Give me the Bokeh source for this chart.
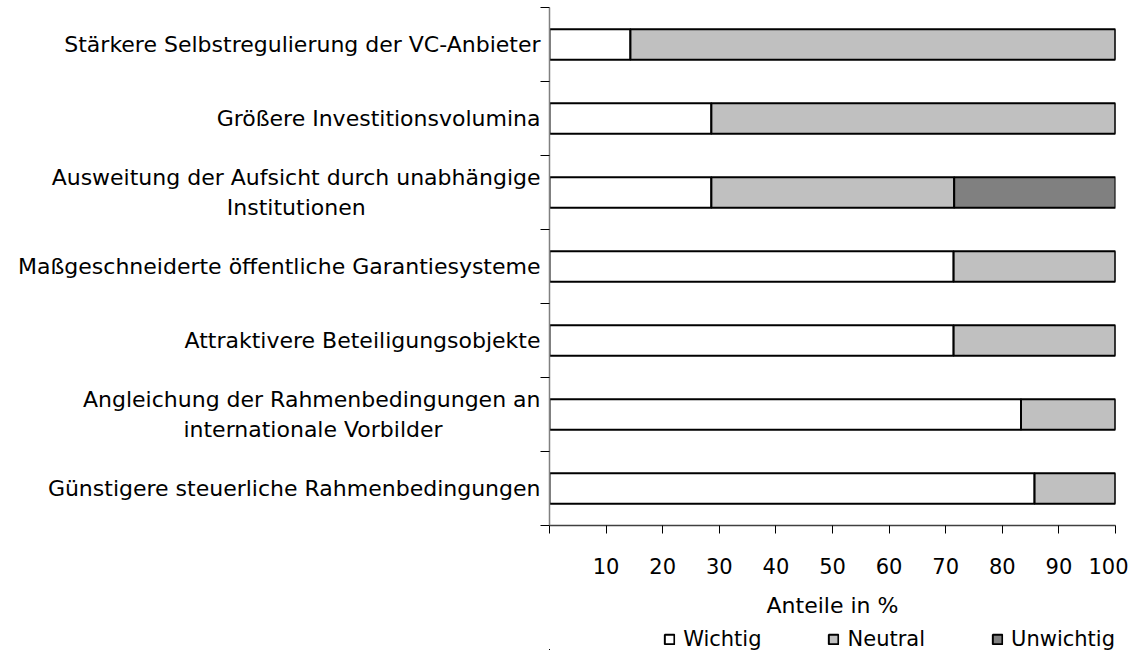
from bokeh.plotting import figure
from bokeh.layouts import column
from bokeh.models import ColumnDataSource, FixedTicker, Legend, LegendItem
from bokeh.embed import file_html
from bokeh.resources import INLINE

NB = "\u00a0"
categories = [
    "Stärkere Selbstregulierung der VC-Anbieter",
    "Größere Investitionsvolumina",
    "Ausweitung der Aufsicht durch unabhängige\nInstitutionen" + NB * 25,
    "Maßgeschneiderte öffentliche Garantiesysteme",
    "Attraktivere Beteiligungsobjekte",
    "Angleichung der Rahmenbedingungen an\ninternationale Vorbilder" + NB * 14,
    "Günstigere steuerliche Rahmenbedingungen",
]
wichtig = [14.3, 28.6, 28.6, 71.4, 71.4, 83.3, 85.7]
neutral = [85.7, 71.4, 42.9, 28.6, 28.6, 16.7, 14.3]
unwichtig = [0.0, 0.0, 28.6, 0.0, 0.0, 0.0, 0.0]
series = ["Wichtig", "Neutral", "Unwichtig"]
colors = ["#ffffff", "#c0c0c0", "#808080"]
x_ticks = [0, 10, 20, 30, 40, 50, 60, 70, 80, 90, 100]

n = len(categories)
ypos = [n - 1 - i for i in range(n)]
src = ColumnDataSource(dict(y=ypos, Wichtig=wichtig, Neutral=neutral, Unwichtig=unwichtig))

FONT = "DejaVu Sans"
p = figure(frame_width=566, frame_height=518,
           output_backend="svg", toolbar_location=None,
           x_range=(0, 100), y_range=(-0.5, n - 0.5),
           min_border_left=549, min_border_right=13, min_border_top=7, min_border_bottom=96)
p.outline_line_color = None
p.xgrid.visible = False
p.ygrid.visible = False

renderers = p.hbar_stack(series, y="y", height=0.41, source=src, fill_color=colors,
                         line_color="black", line_width=2)

# y axis
yax = p.yaxis[0]
yax.ticker = FixedTicker(ticks=ypos, minor_ticks=[v - 0.5 for v in range(n + 1)])
yax.major_label_overrides = {ypos[i]: categories[i] for i in range(n)}
yax.major_tick_in = 0
yax.major_tick_out = 0
yax.minor_tick_in = 0
yax.minor_tick_out = 9
yax.minor_tick_line_color = "black"
yax.axis_line_color = "#808080"
yax.axis_line_width = 1.5
yax.major_label_standoff = 0
yax.major_label_text_font = FONT
yax.major_label_text_font_size = "22px"
yax.major_label_text_color = "black"

# x axis
xax = p.xaxis[0]
xax.ticker = FixedTicker(ticks=x_ticks)
xax.major_label_overrides = {0: ""}
xax.major_tick_in = 0
xax.major_tick_out = 8
xax.minor_tick_out = 0
xax.minor_tick_in = 0
xax.major_tick_line_color = "black"
xax.axis_line_color = "#404040"
xax.axis_line_width = 1.5
xax.major_label_standoff = 24
xax.major_label_text_font = FONT
xax.major_label_text_font_size = "21px"
xax.major_label_text_color = "black"
xax.axis_label = "Anteile in %"
xax.axis_label_text_font = FONT
xax.axis_label_text_font_size = "22px"
xax.axis_label_text_font_style = "normal"
xax.axis_label_text_color = "black"
xax.axis_label_standoff = 16

# legend strip below the chart (its own bars lie outside its visible ranges)
p2 = figure(frame_width=566, frame_height=22, output_backend="svg", toolbar_location=None,
            x_range=(200, 300), y_range=(n + 10, n + 11),
            x_axis_location=None, y_axis_location=None,
            min_border_left=549, min_border_right=13, min_border_top=7, min_border_bottom=0)
p2.outline_line_color = None
p2.xgrid.visible = False
p2.ygrid.visible = False
leg_renderers = p2.hbar_stack(series, y="y", height=0.41, source=src, fill_color=colors,
                              line_color="black", line_width=2)

legend = Legend(items=[LegendItem(label=s, renderers=[r]) for s, r in zip(series, leg_renderers)],
                orientation="horizontal", location="right",
                label_text_font=FONT, label_text_font_size="21px", label_text_color="black",
                label_height=18, glyph_width=12, glyph_height=12, label_standoff=8, spacing=66,
                padding=0, margin=0, border_line_color=None, background_fill_alpha=0)
p2.add_layout(legend, "center")

layout = column(p, p2, spacing=0)
open("out.html", "w").write(file_html(layout, INLINE))
